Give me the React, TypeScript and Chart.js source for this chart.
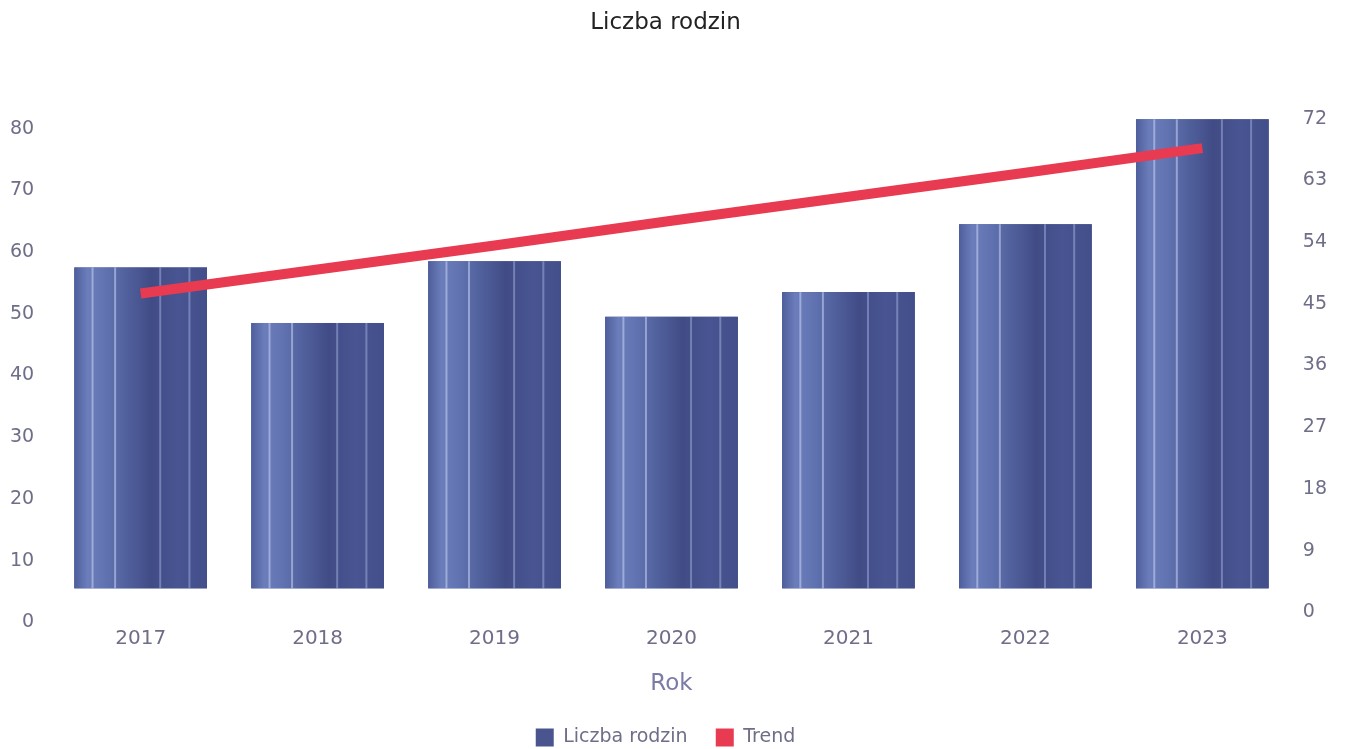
import React, { useEffect, useRef } from "react";
import { Chart, registerables } from "chart.js";

Chart.register(...registerables);

const years = ["2017", "2018", "2019", "2020", "2021", "2022", "2023"];
const families = [52, 43, 53, 44, 48, 59, 76];
const trend = [43.0, 46.5, 50.0, 53.6, 57.1, 60.6, 64.2];
const leftTicks = [0, 10, 20, 30, 40, 50, 60, 70, 80];
const rightTicks = [0, 9, 18, 27, 36, 45, 54, 63, 72];

const TICK_COLOR = "#6e6e88";
const FONT = "'DejaVu Sans', Tahoma, sans-serif";

const stripedBars = {
  id: "stripedBars",
  afterDatasetDraw(chart: any, args: any) {
    if (args.index !== 0) return;
    const ctx = chart.ctx;
    const meta = chart.getDatasetMeta(0);
    ctx.save();
    meta.data.forEach((el: any) => {
      const { x, y, base, width } = el.getProps(["x", "y", "base", "width"], true);
      const left = x - width / 2;
      const g = ctx.createLinearGradient(left, 0, left + width, 0);
      g.addColorStop(0, "#4e5e9c");
      g.addColorStop(0.1, "#6b7dba");
      g.addColorStop(0.22, "#6275b2");
      g.addColorStop(0.38, "#52629e");
      g.addColorStop(0.58, "#414c86");
      g.addColorStop(0.78, "#485592");
      g.addColorStop(1, "#424f8a");
      ctx.fillStyle = g;
      ctx.fillRect(left, y, width, base - y);
      const stripes = [0.13, 0.3, 0.64, 0.86];
      stripes.forEach((s, i) => {
        ctx.fillStyle = i < 2 ? "rgba(200,212,248,0.55)" : "rgba(190,202,242,0.4)";
        ctx.fillRect(left + s * width, y, 2, base - y);
      });
    });
    ctx.restore();
  },
};

export default function App() {
  const ref = useRef<HTMLCanvasElement>(null);
  useEffect(() => {
    document.body.style.margin = "0";
    const chart = new Chart(ref.current!, {
      type: "bar",
      data: {
        labels: years,
        datasets: [
          {
            type: "bar",
            label: "Liczba rodzin",
            data: families,
            backgroundColor: "#4a5590",
            barPercentage: 0.75,
            categoryPercentage: 1,
            yAxisID: "y",
            order: 1,
          },
          {
            type: "line",
            label: "Trend",
            data: trend,
            borderColor: "#e83a50",
            backgroundColor: "#e83a50",
            borderWidth: 10,
            pointRadius: 0,
            yAxisID: "y1",
            order: 0,
          } as any,
        ],
      },
      options: {
        responsive: false,
        animation: false,
        layout: { padding: { left: 0, right: 14, top: 0, bottom: -8 } },
        plugins: {
          title: {
            display: true,
            text: "Liczba rodzin",
            color: "#222222",
            font: { family: FONT, size: 23, weight: "normal" },
            padding: { top: 9, bottom: 58 },
          },
          legend: {
            position: "bottom",
            labels: {
              color: TICK_COLOR,
              font: { family: FONT, size: 19 },
              boxWidth: 18,
              boxHeight: 18,
              padding: 10,
              generateLabels: (c: any) =>
                c.data.datasets.map((ds: any, i: number) => ({
                  text: i === 0 ? ds.label + "   " : ds.label,
                  fillStyle: i === 0 ? "#4a5590" : "#e83a50",
                  strokeStyle: "rgba(0,0,0,0)",
                  lineWidth: 0,
                  fontColor: TICK_COLOR,
                  datasetIndex: i,
                  hidden: false,
                })),
            },
          },
          tooltip: { enabled: false },
        },
        scales: {
          x: {
            grid: { display: false },
            border: { display: false },
            ticks: { color: TICK_COLOR, font: { family: FONT, size: 20 }, padding: 30 },
            title: {
              display: true,
              text: "Rok",
              color: "#7b7ba6",
              font: { family: FONT, size: 23 },
              padding: { top: -10, bottom: 20 },
            },
          },
          y: {
            position: "left",
            min: 0,
            max: 80,
            grid: { display: false },
            border: { display: false },
            afterBuildTicks: (s: any) => {
              s.ticks = leftTicks.map((v) => ({ value: v }));
            },
            ticks: { color: TICK_COLOR, font: { family: FONT, size: 19 }, padding: 10, labelOffset: 34 },
          },
          y1: {
            position: "right",
            min: 0,
            max: 72,
            grid: { display: false },
            border: { display: false },
            afterBuildTicks: (s: any) => {
              s.ticks = rightTicks.map((v) => ({ value: v }));
            },
            ticks: { color: TICK_COLOR, font: { family: FONT, size: 19 }, padding: 4, labelOffset: 24 },
          },
        },
      },
      plugins: [stripedBars],
    });
    return () => chart.destroy();
  }, []);
  return <canvas ref={ref} width={1345} height={749} style={{ display: "block" }} />;
}
